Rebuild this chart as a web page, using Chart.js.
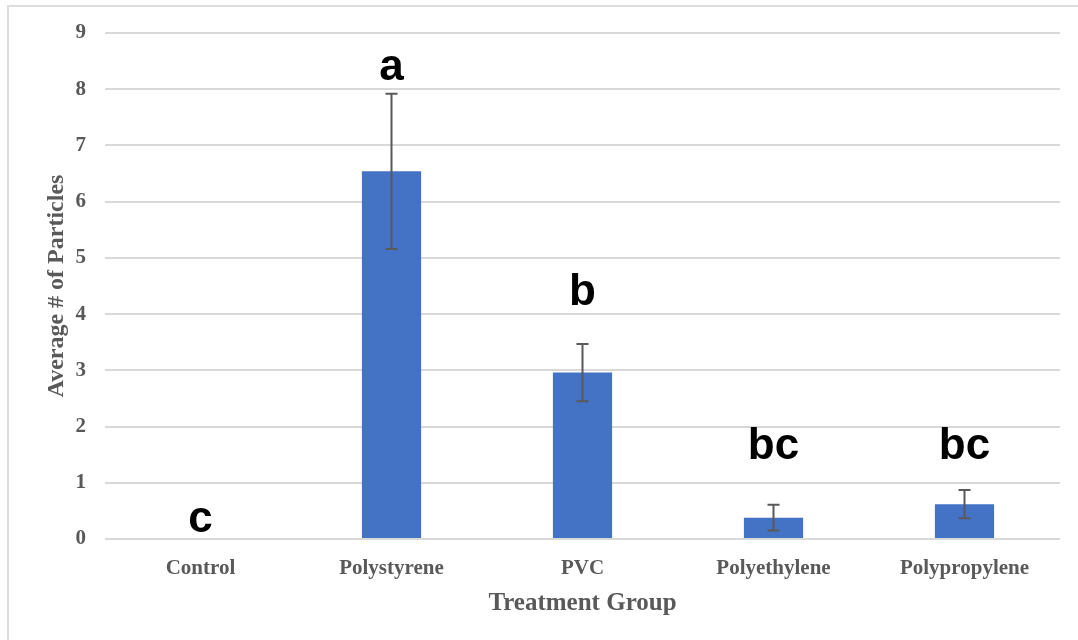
<!DOCTYPE html>
<html>
<head>
<meta charset="utf-8">
<script src="https://cdn.jsdelivr.net/npm/chart.js@4.4.1/dist/chart.umd.min.js"></script>
<style>
  html, body { margin: 0; padding: 0; background: #ffffff; }
  #wrap { position: relative; width: 1078px; height: 640px; }
  #frame { position: absolute; left: 7px; top: 5px; right: 0; bottom: 0;
           border-top: 2px solid #dcdcdc; border-left: 2px solid #dcdcdc; pointer-events: none; }
  canvas { position: absolute; left: 0; top: 0; }
</style>
</head>
<body>
<div id="wrap">
  <canvas id="chart" width="1078" height="640"></canvas>
  <div id="frame"></div>
</div>
<script>
// Treatment groups and mean particle counts
const categories = ['Control', 'Polystyrene', 'PVC', 'Polyethylene', 'Polypropylene'];
const means = [0, 6.54, 2.96, 0.38, 0.62];
// Standard error for each group
const errors = [0, 1.38, 0.51, 0.23, 0.25];
// Significance group letters
const letters = ['c', 'a', 'b', 'bc', 'bc'];
const yTicks = [0, 1, 2, 3, 4, 5, 6, 7, 8, 9];

// Baseline height (data units) for each significance letter
const letterBaselines = [0.12, 8.16, 4.16, 1.42, 1.42];

const errorBarPlugin = {
  id: 'errorBars',
  afterDatasetsDraw(chart) {
    const ctx = chart.ctx;
    const x = chart.scales.x, y = chart.scales.y;
    ctx.save();
    ctx.strokeStyle = '#595959';
    ctx.lineWidth = 2;
    means.forEach((m, i) => {
      if (!errors[i]) return;
      const cx = x.getPixelForValue(i);
      const yTop = y.getPixelForValue(m + errors[i]);
      const yBot = y.getPixelForValue(m - errors[i]);
      ctx.beginPath();
      ctx.moveTo(cx, yTop); ctx.lineTo(cx, yBot);
      ctx.moveTo(cx - 6, yTop); ctx.lineTo(cx + 6, yTop);
      ctx.moveTo(cx - 6, yBot); ctx.lineTo(cx + 6, yBot);
      ctx.stroke();
    });
    // significance letters
    ctx.fillStyle = '#000000';
    ctx.font = 'bold 44px "Liberation Sans", Arial, sans-serif';
    ctx.textAlign = 'center';
    ctx.textBaseline = 'alphabetic';
    letters.forEach((t, i) => {
      ctx.fillText(t, x.getPixelForValue(i), y.getPixelForValue(letterBaselines[i]));
    });
    ctx.restore();
  }
};

const serif = '"Liberation Serif", "Times New Roman", serif';

new Chart(document.getElementById('chart'), {
  type: 'bar',
  data: {
    labels: categories,
    datasets: [{
      data: means,
      backgroundColor: '#4472C4',
      borderWidth: 0,
      barPercentage: 0.62,
      categoryPercentage: 0.5
    }]
  },
  options: {
    responsive: false,
    animation: false,
    layout: { padding: { left: 8, right: 18, top: 33, bottom: 0 } },
    plugins: { legend: { display: false }, tooltip: { enabled: false } },
    scales: {
      x: {
        grid: { display: false, drawTicks: false },
        border: { display: false },
        ticks: { color: '#595959', padding: 17, font: { family: serif, size: 21, weight: 'bold' } },
        title: {
          display: true, text: 'Treatment Group', color: '#595959',
          font: { family: serif, size: 25, weight: 'bold' },
          padding: { top: 4, bottom: 21 }
        },
        afterFit(s) { s.height = 101; }
      },
      y: {
        min: 0, max: 9,
        afterBuildTicks(s) { s.ticks = yTicks.map(v => ({ value: v })); },
        grid: { color: '#d9d9d9', lineWidth: 2, drawTicks: false },
        border: { display: false },
        ticks: { color: '#595959', padding: 19, font: { family: serif, size: 21, weight: 'bold' } },
        title: {
          display: true, text: 'Average # of Particles', color: '#595959',
          font: { family: serif, size: 24, weight: 'bold' },
          padding: { top: 34, bottom: 0 }
        },
        afterFit(s) { s.width = 97; }
      }
    }
  },
  plugins: [errorBarPlugin]
});
</script>
</body>
</html>
